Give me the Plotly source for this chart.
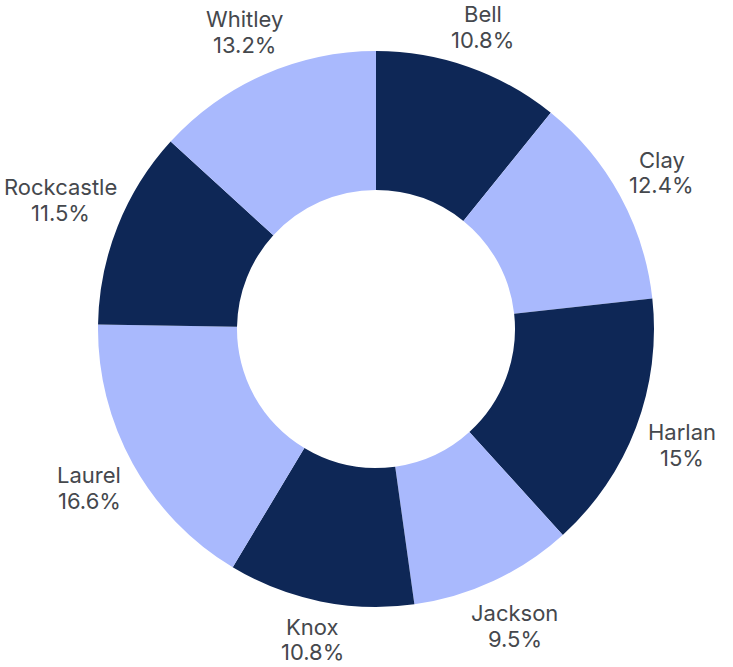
import math
import plotly.graph_objects as go

labels = ["Bell", "Clay", "Harlan", "Jackson", "Knox", "Laurel", "Rockcastle", "Whitley"]
values = [10.8, 12.4, 15, 9.5, 10.8, 16.6, 11.5, 13.2]
pct_text = [f"{v:g}%" for v in values]

dark = "#0e2756"
light = "#a9b9fd"
colors = [dark if i % 2 == 0 else light for i in range(len(labels))]

W, H = 733, 667
cx, cy, r = 376, 329, 278
FS = 22
gap = 10          # distance from ring edge to label box
line_gap = 12.75  # half the baseline spacing
edge = 4          # min distance of a label box from the canvas edge
font = dict(family="Inter, sans-serif", size=FS, color="#45484d", weight=400)

CW = {"i": .24, "l": .24, "j": .24, "t": .36, "r": .37, "f": .34, "y": .52, "k": .52,
      "v": .52, "x": .52, "W": .95, "m": .86, "w": .78, ".": .28, "%": .86, "1": .42}


def text_w(s):
    w = 0.0
    for ch in s:
        if ch in CW:
            w += CW[ch]
        elif ch.isdigit():
            w += .6
        elif ch.isupper():
            w += .68
        else:
            w += .56
    return w * FS


fig = go.Figure(go.Pie(
    labels=labels,
    values=values,
    textinfo="none",
    hole=0.5,
    sort=False,
    direction="clockwise",
    rotation=0,
    marker=dict(colors=colors, line=dict(width=0)),
    automargin=False,
    domain=dict(x=[(cx - r) / W, (cx + r) / W], y=[(H - cy - r) / H, (H - cy + r) / H]),
    hoverinfo="label+percent",
))

total = sum(values)
cum = 0.0
annotations = []
for lab, v, pt in zip(labels, values, pct_text):
    theta = 2 * math.pi * (cum + v / 2) / total
    cum += v
    hw = max(text_w(lab), text_w(pt)) / 2
    hh = 23.5
    s, c = math.sin(theta), math.cos(theta)
    dist = r + gap + hw * abs(s) + hh * abs(c)
    lx = cx + dist * s
    ly = cy - dist * c
    lx = min(max(lx, edge + hw), W - edge - hw)
    for txt, dy in ((lab, -line_gap), (pt, line_gap)):
        annotations.append(dict(
            x=lx / W, y=1 - (ly + dy) / H, xref="paper", yref="paper",
            text=txt, showarrow=False, xanchor="center", yanchor="middle",
            font=font,
        ))

fig.update_layout(
    width=W, height=H,
    margin=dict(l=0, r=0, t=0, b=0),
    showlegend=False,
    paper_bgcolor="white",
    plot_bgcolor="white",
    annotations=annotations,
)

fig.write_html("out.html", config={"displayModeBar": False},
               post_script="document.body.style.margin='0';")
